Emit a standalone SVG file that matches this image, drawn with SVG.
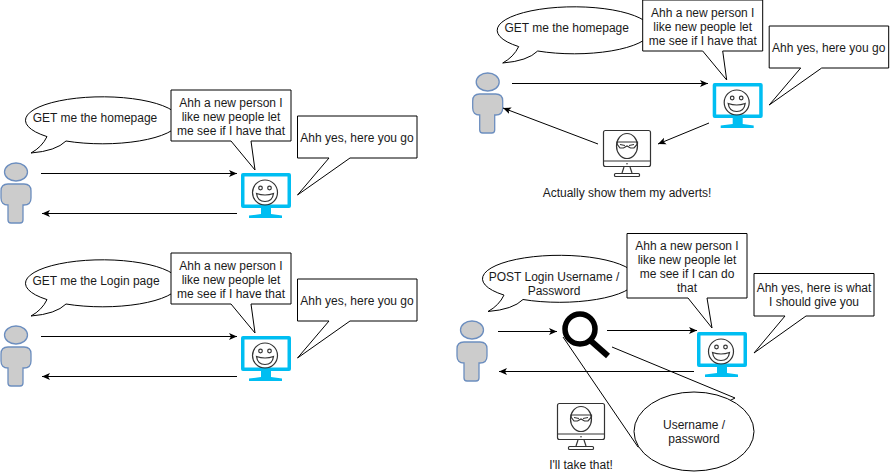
<svg xmlns="http://www.w3.org/2000/svg" xmlns:xlink="http://www.w3.org/1999/xlink" width="890" height="472" viewBox="0 0 890 472">
<style>
text{font-family:"Liberation Sans",Arial,sans-serif;font-size:12px;fill:#1a1a1a;text-anchor:middle}
.bub{fill:#fff;stroke:#000;stroke-width:1}
.link{fill:none;stroke:#000;stroke-width:1;marker-end:url(#arr)}
.skin{fill:#ccc;stroke:#6c8ebf;stroke-width:1.3}
.cy{fill:#00bef2}
.ink{fill:none;stroke:#333;stroke-width:1.2}
</style>
<defs>
<marker id="arr" markerUnits="userSpaceOnUse" markerWidth="9" markerHeight="9" refX="8" refY="4.500" orient="auto"><path d="M0,1 L8,4.500 L0,8 L2,4.500 Z" fill="#000"/></marker>
<path id="cloud" d="M47,136.600 A77,23.500 0 1 1 66,141 Q56,151 31,153 Q42,147 47,136.600 Z"/>
<g id="person">
<ellipse class="skin" cx="16" cy="172" rx="11.500" ry="9"/>
<path class="skin" d="M8,184 H24 Q31,184 31,191 V198 Q31,205 24,205 H23 V220 Q23,223 20,223 H11 Q8,223 8,220 V205 H8 Q1,205 1,198 V191 Q1,184 8,184 Z"/>
</g>
<g id="happy">
<path class="cy" d="M243,173 H289 Q291,173 291,175 V206 Q291,208 289,208 H271 V214 L282,215.500 V218 H249 V215.500 L261,214 V208 H243 Q241,208 241,206 V175 Q241,173 243,173 Z"/>
<rect x="244.500" y="176.500" width="43" height="28" fill="#fff"/>
<circle class="ink" cx="265" cy="192.500" r="12.500" fill="#fff"/>
<circle class="ink" cx="260.500" cy="188" r="1.800"/>
<circle class="ink" cx="269.500" cy="188" r="1.800"/>
<path class="ink" d="M256.500,193.500 Q265,196.500 273.500,193.500 Q272.500,201.500 265,201.500 Q257.500,201.500 256.500,193.500 Z"/>
</g>
<g id="ninja">
<rect class="ink" x="603.500" y="130.500" width="47" height="36" rx="2"/>
<path class="ink" d="M604,161 H650"/>
<circle cx="627" cy="163.700" r="0.800" fill="#333"/>
<path class="ink" d="M624,167 L622,173 M630,167 L632,173"/>
<rect class="ink" x="614.500" y="173.500" width="25" height="3" rx="1"/>
<ellipse class="ink" cx="627" cy="146" rx="10.500" ry="12.500"/>
<path class="ink" d="M617,142 H637.500 V144 L634,148 H630.500 L627,146 L623.500,148 H620 L617,144 Z"/>
<path class="ink" d="M620,144.500 L625,145.500 M634,144.500 L629,145.500"/>
</g>
</defs>

<g id="panel1-client-said"><use href="#cloud" class="bub"/><text x="95" y="122">GET me the homepage</text></g>
<g id="panel1-person"><use href="#person"/></g>
<g id="panel1-server"><use href="#happy"/></g>
<g id="panel1-server-thought"><path class="bub" d="M171,90 H291 V141 H251 L255,170 L231,141 H171 Z"/><text x="231" y="106.500">Ahh a new person I</text><text x="231" y="120.500">like new people let</text><text x="231" y="134.500">me see if I have that</text></g>
<g id="panel1-server-reply"><path class="bub" d="M297.500,116 H417 V158 H350 L297.500,195 L329,158 H297.500 Z"/><text x="357" y="142">Ahh yes, here you go</text></g>

<g id="panel2-client-said"><use href="#cloud" class="bub" transform="translate(0,163)"/><text x="96" y="285">GET me the Login page</text></g>
<g id="panel2-person"><use href="#person" transform="translate(0,163)"/></g>
<g id="panel2-server"><use href="#happy" transform="translate(0,163)"/></g>
<g id="panel2-server-thought" transform="translate(0,163)"><path class="bub" d="M171,90 H291 V141 H251 L255,170 L231,141 H171 Z"/><text x="231" y="106.500">Ahh a new person I</text><text x="231" y="120.500">like new people let</text><text x="231" y="134.500">me see if I have that</text></g>
<g id="panel2-server-reply" transform="translate(0,163)"><path class="bub" d="M297.500,116 H417 V158 H350 L297.500,195 L329,158 H297.500 Z"/><text x="357" y="142">Ahh yes, here you go</text></g>

<g id="panel3-client-said" transform="translate(471.700,-90)"><use href="#cloud" class="bub"/><text x="95" y="122">GET me the homepage</text></g>
<g id="panel3-person"><use href="#person" transform="translate(471.700,-90)"/></g>
<g id="panel3-server"><use href="#happy" transform="translate(471.700,-90)"/></g>
<g id="panel3-server-thought" transform="translate(471.700,-90)"><path class="bub" d="M171,90 H291 V141 H251 L255,170 L231,141 H171 Z"/><text x="231" y="106.500">Ahh a new person I</text><text x="231" y="120.500">like new people let</text><text x="231" y="134.500">me see if I have that</text></g>
<g id="panel3-server-reply" transform="translate(471.700,-90)"><path class="bub" d="M297.500,116 H417 V158 H350 L297.500,195 L329,158 H297.500 Z"/><text x="357" y="142">Ahh yes, here you go</text></g>
<g id="panel3-attacker"><use href="#ninja"/><text x="627" y="197">Actually show them my adverts!</text></g>

<g id="panel4-client-said"><use href="#cloud" class="bub" transform="translate(457,158.500)"/><text x="554" y="280.500">POST Login Username /</text><text x="554" y="294.500">Password</text></g>
<g id="panel4-person"><use href="#person" transform="translate(456,158)"/></g>
<g id="panel4-server"><use href="#happy" transform="translate(456,159)"/></g>
<g id="panel4-server-thought"><path class="bub" d="M627,233.500 H747 V298 H707 L712,328 L688,298 H627 Z"/><text x="687" y="250">Ahh a new person I</text><text x="687" y="264">like new people let</text><text x="687" y="278">me see if I can do</text><text x="687" y="292">that</text></g>
<g id="panel4-server-reply"><path class="bub" d="M754,273.500 H874 V316 H806 L754,353 L785,316 H754 Z"/><text x="814" y="292">Ahh yes, here is what</text><text x="814" y="306">I should give you</text></g>
<g id="panel4-intercepted"><path class="bub" d="M612,347 L735,398 L638,447 L563,337"/><ellipse class="bub" cx="694" cy="431.500" rx="60" ry="39.500"/><text x="694" y="429">Username /</text><text x="694" y="443">password</text></g>
<g id="panel4-proxy"><circle cx="580" cy="329" r="15" fill="none" stroke="#000" stroke-width="5.500"/><path d="M591,341 L608,356" stroke="#000" stroke-width="6" fill="none"/></g>
<g id="panel4-attacker"><use href="#ninja" transform="translate(-46,273)"/><text x="581" y="469">I'll take that!</text></g>

<g id="connectors">
<path class="link" d="M41,173.500 H237"/>
<path class="link" d="M237,213.500 H42"/>
<path class="link" d="M41,336.500 H237"/>
<path class="link" d="M237,376.500 H42"/>
<path class="link" d="M512,83.500 H708"/>
<path class="link" d="M709,123 L658,144"/>
<path class="link" d="M598,144 L503,108"/>
<path class="link" d="M498,331.500 H557"/>
<path class="link" d="M607,330.500 H697"/>
<path class="link" d="M694,371.500 H499"/>
</g>
</svg>
